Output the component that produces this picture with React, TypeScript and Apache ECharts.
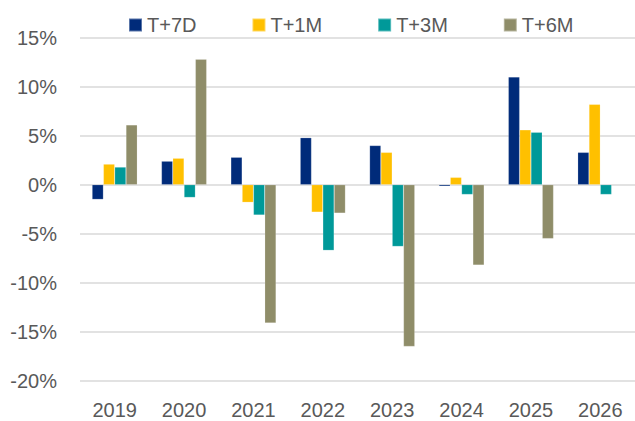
import React, { useEffect, useRef } from "react";
import * as echarts from "echarts";

const categories = ["2019", "2020", "2021", "2022", "2023", "2024", "2025", "2026"];
const seriesNames = ["T+7D", "T+1M", "T+3M", "T+6M"];
const t7d = [-1.5, 2.4, 2.8, 4.8, 4.0, -0.15, 11.0, 3.3];
const t1m = [2.1, 2.7, -1.8, -2.8, 3.3, 0.75, 5.6, 8.2];
const t3m = [1.8, -1.3, -3.1, -6.7, -6.3, -1.0, 5.35, -1.0];
const t6m = [6.1, 12.8, -14.1, -2.9, -16.5, -8.2, -5.5, null];
const colors = ["#002B7A", "#FFC000", "#009999", "#8F8D69"];

const FONT = "'Liberation Sans', Arial, sans-serif";

export default function App() {
  const ref = useRef<HTMLDivElement>(null);
  useEffect(() => {
    if (!ref.current) return;
    const chart = echarts.init(ref.current, null, { renderer: "svg" });
    const data = [t7d, t1m, t3m, t6m];
    chart.setOption({
      animation: false,
      color: colors,
      textStyle: { fontFamily: FONT },
      legend: {
        data: seriesNames,
        left: 123,
        top: 10,
        itemWidth: 13,
        itemHeight: 13,
        itemGap: 55,
        icon: "rect",
        textStyle: { fontSize: 20, color: "#595959", fontFamily: FONT },
      },
      grid: { left: 80, right: 0, top: 37.7, bottom: 421 - 380.7, containLabel: false },
      xAxis: {
        type: "category",
        data: categories,
        axisLine: { show: false, onZero: false },
        axisTick: { show: false },
        axisLabel: { fontSize: 20, color: "#595959", margin: 19, fontFamily: FONT },
        position: "bottom",
      },
      yAxis: {
        type: "value",
        min: -20,
        max: 15,
        interval: 5,
        axisLine: { show: false },
        axisTick: { show: false },
        axisLabel: { formatter: "{value}%", fontSize: 20, color: "#595959", margin: 23, fontFamily: FONT },
        splitLine: { lineStyle: { color: "#D9D9D9", width: 1.5 } },
      },
      series: seriesNames.map((name, i) => ({
        name,
        type: "bar",
        data: data[i],
        barWidth: 11.3,
        barGap: "0%",
        itemStyle: { color: colors[i], borderColor: "rgba(255,255,255,0.35)", borderWidth: 0.5 },
      })),
    });
    return () => chart.dispose();
  }, []);
  return <div ref={ref} style={{ width: 635, height: 421, position: "absolute", left: 0, top: 0 }} />;
}
